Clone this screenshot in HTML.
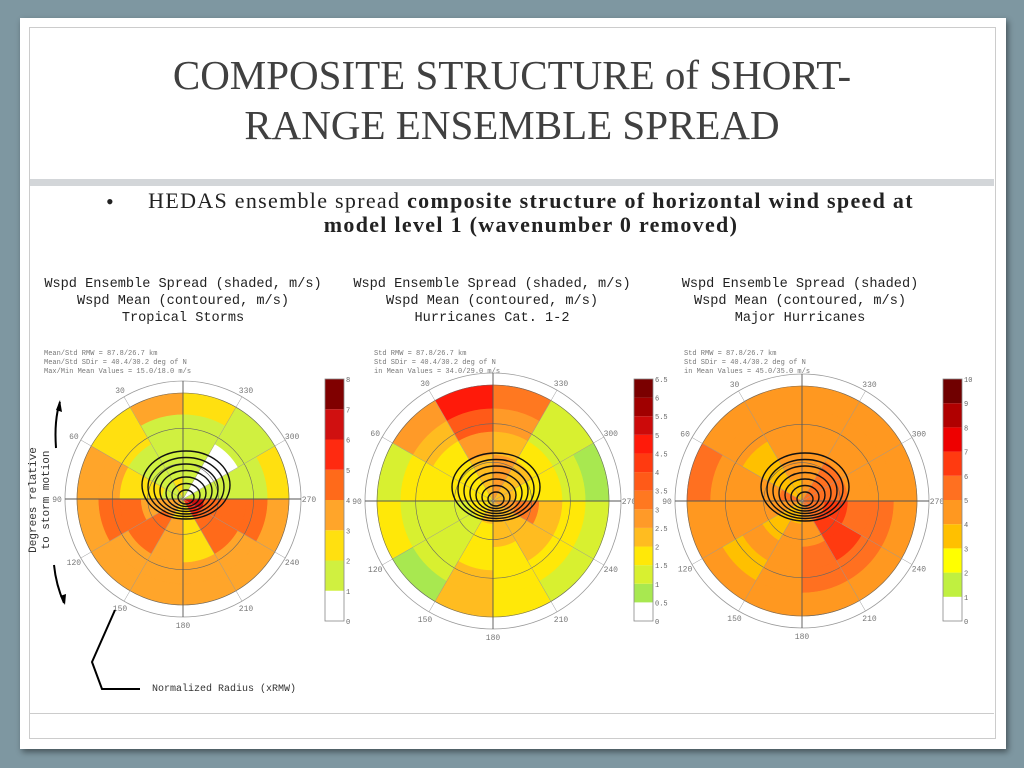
<!DOCTYPE html>
<html><head><meta charset="utf-8"><style>
body{margin:0;width:1024px;height:768px;background:#7e97a1;overflow:hidden;position:relative;font-family:"Liberation Serif",serif}
#card{position:absolute;left:20px;top:18px;width:986px;height:731px;background:#fff;box-shadow:2px 3px 6px rgba(0,0,0,.45)}
#inner{position:absolute;left:29px;top:27px;width:965px;height:710px;border:1px solid #ccc}
#band{position:absolute;left:30px;top:179px;width:964px;height:7px;background:#d3d6d9}
#bot{position:absolute;left:30px;top:713px;width:964px;height:1px;background:#ccc}
#title{position:absolute;left:30px;top:50px;width:964px;text-align:center;font-size:41px;line-height:50px;color:#404040}
#bullet{position:absolute;left:106px;top:189px;font-size:22px;color:#222}
#btext{position:absolute;left:140px;top:189px;width:782px;text-align:center;font-size:22px;line-height:24px;color:#222;letter-spacing:1.3px}
svg{position:absolute;left:0;top:0}
</style></head><body>
<div id="card"></div>
<div id="inner"></div>
<div id="band"></div>
<div id="bot"></div>
<div id="title">COMPOSITE STRUCTURE of SHORT-<br>RANGE ENSEMBLE SPREAD</div>
<div id="bullet">•</div>
<div id="btext">HEDAS ensemble spread <b>composite structure of horizontal wind speed at<br>model level 1 (wavenumber 0 removed)</b></div>
<svg id="s" width="1024" height="768"></svg>
<script>
// sectors: 30° each counterclockwise from top (0°); rings inner->outer
const sectors=["0-30","30-60","60-90","90-120","120-150","150-180","180-210","210-240","240-270","270-300","300-330","330-360"];
const ts=[[2.5,1.5,1.5,1.5,3],[1.5,1.5,1.5,2,2.5],[1.5,2,2.5,3,3.5],[3,3.5,4.2,4,3.5],[3,4.2,4.2,3.5,3.5],[2.5,3,3.5,3,3.5],[2.5,2.5,2.5,3,3.5],[5,4.5,4,3.5,3.5],[6,4.5,4.5,4,3.5],[1.5,1.5,1.5,1.5,2.5],[0.5,0.5,0.5,1.5,1.5],[1.5,1.5,1.5,1.5,2.5]];
const h12=[[2.2,2.2,2.7,3.7,4.7],[1.7,1.7,1.7,2.2,2.7],[1.7,1.7,1.7,1.7,1.2],[1.7,1.2,1.2,1.2,1.7],[1.7,1.2,1.2,1.2,0.7],[2.2,1.7,1.7,2.2,2.2],[2.2,2.2,1.7,1.7,1.7],[2.2,2.2,2.2,1.7,1.2],[2.7,3.2,2.2,1.7,1.2],[2.2,1.7,1.7,1.2,0.7],[2.2,2.2,1.7,1.2,1.2],[2.7,2.7,2.2,2.7,3.2]];
const maj=[[3.5,4.5,4.5,4.5,4.5],[3.5,3.5,3.5,4.5,4.5],[5.5,4.5,4.5,4.5,5.5],[4.5,4.5,4.5,4.5,4.5],[3.5,3.5,4.5,3.5,4.5],[3.5,4.5,4.5,4.5,4.5],[4.5,4.5,5.5,5.5,4.5],[5.5,6.5,6.5,5.5,4.5],[5.5,6.5,5.5,5.5,4.5],[5.5,5.5,4.5,4.5,4.5],[5.5,5.5,4.5,4.5,4.5],[4.5,4.5,4.5,4.5,4.5]];
const ticks1=["0","1","2","3","4","5","6","7","8"];
const ticks2=["0","0.5","1","1.5","2","2.5","3","3.5","4","4.5","5","5.5","6","6.5"];
const ticks3=["0","1","2","3","4","5","6","7","8","9","10"];
const angleLabels=[30,60,90,120,150,180,210,240,270,300,330];
const pal1=["#ffffff","#d0f040","#ffe010","#ffa52a","#ff6a1a","#ff2a10","#d01010","#800000"];
const pal2=["#ffffff","#a8e850","#d8f030","#ffe808","#ffbc20","#ff9a28","#ff7820","#ff5a18","#ff3a10","#ff1a0a","#cc0a0a","#a00000","#7a0000"];
const pal3=["#ffffff","#c0f040","#ffff00","#ffc000","#ff9820","#ff7020","#ff3a10","#ee0000","#b00000","#700000"];
const S=document.getElementById('s'),NS="http://www.w3.org/2000/svg";
function mk(t,a,txt){const e=document.createElementNS(NS,t);for(const k in a)e.setAttribute(k,a[k]);if(txt!==undefined)e.textContent=txt;S.appendChild(e);return e;}
function pt(cx,cy,r,deg){const a=deg*Math.PI/180;return [cx-r*Math.sin(a),cy-r*Math.cos(a)];}
function plot(o){
 const {cx,cy,R,data,pal,step,ticks,bx,id,head,stats}=o;
 const nr=data[0].length;
 head.forEach((t,i)=>{const e=mk('text',{x:o.hx,y:287+i*17,'font-family':'Liberation Mono, monospace','font-size':13.6,fill:'#222','text-anchor':'middle'},t);
 
 });
 stats.forEach((t,i)=>{const e=mk('text',{x:o.sx,y:355+i*9,'font-family':'Liberation Mono, monospace','font-size':7,fill:'#777'},t);
 
 });
 data.forEach((ring,si)=>{ring.forEach((v,ri)=>{
  const r0=R*ri/nr,r1=R*(ri+1)/nr,a0=si*30,a1=a0+30;
  const p1=pt(cx,cy,r0,a0),p2=pt(cx,cy,r1,a0),p3=pt(cx,cy,r1,a1),p4=pt(cx,cy,r0,a1);
  const c=pal[Math.max(0,Math.min(pal.length-1,Math.floor(v/step)))];
  const e=mk('path',{d:`M${p1}L${p2}A${r1},${r1} 0 0 0 ${p3}L${p4}`+(r0>0?`A${r0},${r0} 0 0 1 ${p1}`:'')+'Z',fill:c,stroke:c,'stroke-width':0.6});
  
  
 });});
 [R/3,2*R/3,R].forEach(r=>mk('circle',{cx,cy,r,fill:'none',stroke:'#666','stroke-width':0.6}));
 const oc=mk('circle',{cx,cy,r:R+12,fill:'none',stroke:'#999','stroke-width':0.8});
 
 
 for(let a=0;a<360;a+=30){const p=pt(cx,cy,R+12,a);mk('line',{x1:cx,y1:cy,x2:p[0],y2:p[1],stroke:a%90?'#999':'#555','stroke-width':a%90?0.5:0.9});}
 angleLabels.forEach(a=>{const p=pt(cx,cy,R+20,a);const e=mk('text',{x:p[0],y:p[1]+3,'font-family':'Liberation Mono, monospace','font-size':8,fill:'#777','text-anchor':'middle'},String(a));
 
 });
 for(let i=0;i<7;i++){const e=mk('ellipse',{cx:cx+3,cy:cy-14+i*2,rx:44-i*6,ry:34-i*4.5,fill:'none',stroke:'#111','stroke-width':1.4});
 
 }
 const n=pal.length,top=379,h=242,bh=h/n;
 pal.forEach((c,i)=>{const e=mk('rect',{x:bx,y:top+h-(i+1)*bh,width:19,height:bh,fill:c});
 
 });
 mk('rect',{x:bx,y:top,width:19,height:h,fill:'none',stroke:'#888','stroke-width':0.8});
 ticks.forEach((t,i)=>{const e=mk('text',{x:bx+21,y:top+h-i*bh+3,'font-family':'Liberation Mono, monospace','font-size':7,fill:'#666'},t);
 
 });
}
plot({id:'tropical-storms',cx:183,cy:499,R:106,data:ts,pal:pal1,step:1,ticks:ticks1,bx:325,sx:44,hx:183,
 head:["Wspd Ensemble Spread (shaded, m/s)","Wspd Mean (contoured, m/s)","Tropical Storms"],
 stats:["Mean/Std RMW  = 87.8/26.7 km","Mean/Std SDir = 40.4/30.2 deg of N","Max/Min Mean Values = 15.0/18.0 m/s"]});
plot({id:'hurricanes-cat12',cx:493,cy:501,R:116,data:h12,pal:pal2,step:0.5,ticks:ticks2,bx:634,sx:374,hx:492,
 head:["Wspd Ensemble Spread (shaded, m/s)","Wspd Mean (contoured, m/s)","Hurricanes Cat. 1-2"],
 stats:["Std RMW  = 87.8/26.7 km","Std SDir = 40.4/30.2 deg of N","in Mean Values = 34.0/29.0 m/s"]});
plot({id:'major-hurricanes',cx:802,cy:501,R:115,data:maj,pal:pal3,step:1,ticks:ticks3,bx:943,sx:684,hx:800,
 head:["Wspd Ensemble Spread (shaded)","Wspd Mean (contoured, m/s)","Major Hurricanes"],
 stats:["Std RMW  = 87.8/26.7 km","Std SDir = 40.4/30.2 deg of N","in Mean Values = 45.0/35.0 m/s"]});
let e=mk('text',{x:0,y:0,transform:'translate(36,500) rotate(-90)','font-family':'Liberation Mono, monospace','font-size':11,fill:'#333','text-anchor':'middle'},'Degrees relative');


e=mk('text',{x:0,y:0,transform:'translate(49,500) rotate(-90)','font-family':'Liberation Mono, monospace','font-size':11,fill:'#333','text-anchor':'middle'},'to storm motion');


mk('path',{d:'M56,448 Q54,420 60,402',fill:'none',stroke:'#000','stroke-width':2});
mk('path',{d:'M56,410 L60,400 L62,412Z',fill:'#000'});
mk('path',{d:'M54,565 Q56,585 64,603',fill:'none',stroke:'#000','stroke-width':2});
mk('path',{d:'M60,596 L65,605 L66,594Z',fill:'#000'});
mk('path',{d:'M115,610 L92,662 L102,689 L140,689',fill:'none',stroke:'#000','stroke-width':2});
e=mk('text',{x:152,y:691,'font-family':'Liberation Mono, monospace','font-size':10,fill:'#333'},'Normalized Radius (xRMW)');


</script>
</body></html>
